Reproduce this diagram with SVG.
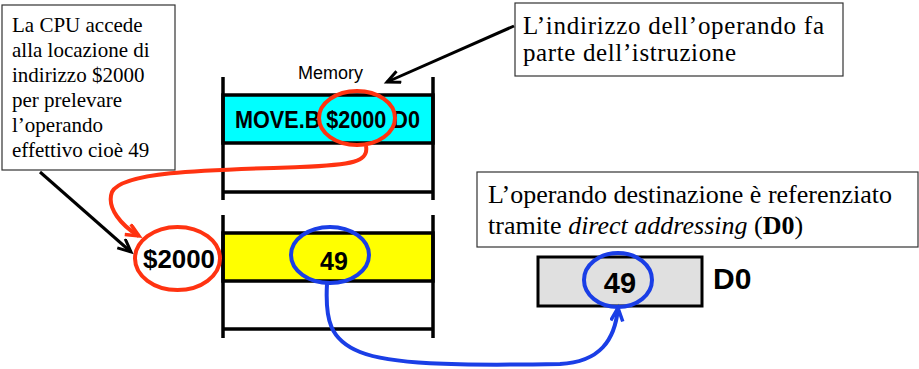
<svg xmlns="http://www.w3.org/2000/svg" width="919" height="369" viewBox="0 0 919 369">
<style>
.box{fill:#fff;stroke:#333;stroke-width:1.2}
.serif{font-family:"Liberation Serif","Times New Roman",serif;fill:#000}
.sans{font-family:"Liberation Sans",Arial,sans-serif;font-weight:bold;fill:#000}
.mem{stroke:#000;stroke-width:3.5;fill:none}
.red{fill:none;stroke:#ff3311;stroke-width:4}
.blue{fill:none;stroke:#1a3ee6;stroke-width:4}
.blk{fill:none;stroke:#000;stroke-width:3}
</style>
<defs>
<marker id="ab" markerUnits="userSpaceOnUse" markerWidth="20" markerHeight="20" refX="14" refY="7" orient="auto"><path d="M1,1 L14,7 L1,13" fill="none" stroke="#000" stroke-width="3"/></marker>
<marker id="ar" markerUnits="userSpaceOnUse" markerWidth="20" markerHeight="20" refX="14" refY="7" orient="auto"><path d="M1,1 L14,7 L1,13" fill="none" stroke="#ff3311" stroke-width="3.5"/></marker>
<marker id="au" markerUnits="userSpaceOnUse" markerWidth="20" markerHeight="20" refX="14" refY="7" orient="auto"><path d="M1,1 L14,7 L1,13" fill="none" stroke="#1a3ee6" stroke-width="3.5"/></marker>
</defs>

<g id="note-cpu">
<rect class="box" x="2" y="5" width="173" height="165"/>
<text class="serif" font-size="21" x="12" y="32">La CPU accede</text>
<text class="serif" font-size="21" x="12" y="57">alla locazione di</text>
<text class="serif" font-size="21" x="12" y="82">indirizzo $2000</text>
<text class="serif" font-size="21" x="12" y="107">per prelevare</text>
<text class="serif" font-size="21" x="12" y="132">l’operando</text>
<text class="serif" font-size="21" x="12" y="157">effettivo cioè 49</text>
</g>

<g id="note-indirizzo">
<rect class="box" x="515" y="3" width="328" height="73"/>
<text class="serif" font-size="25" x="523" y="34" textLength="301" lengthAdjust="spacing">L’indirizzo dell’operando fa</text>
<text class="serif" font-size="25" x="523" y="61" textLength="213" lengthAdjust="spacing">parte dell’istruzione</text>
</g>

<g id="note-dest">
<rect class="box" x="477" y="172" width="441" height="75"/>
<text class="serif" font-size="26" x="488" y="203">L’operando destinazione è referenziato</text>
<text class="serif" font-size="26" x="488" y="234">tramite <tspan font-style="italic">direct addressing</tspan> (<tspan font-weight="bold">D0</tspan>)</text>
</g>

<g id="memory-top">
<text class="sans" font-size="18" x="298" y="79" style="font-weight:normal">Memory</text>
<rect x="223" y="95" width="210" height="48" fill="#00ffff" stroke="#000" stroke-width="3.5"/>
<line class="mem" x1="223" y1="77" x2="223" y2="200"/>
<line class="mem" x1="433" y1="77" x2="433" y2="200"/>
<line class="mem" x1="223" y1="192" x2="433" y2="192"/>
<text class="sans" font-size="23" x="235" y="128" textLength="185" lengthAdjust="spacingAndGlyphs">MOVE.B $2000 D0</text>
</g>

<g id="memory-bottom">
<rect x="223" y="233" width="210" height="48" fill="#ffff00" stroke="#000" stroke-width="3.5"/>
<line class="mem" x1="223" y1="215" x2="223" y2="338"/>
<line class="mem" x1="433" y1="215" x2="433" y2="338"/>
<line class="mem" x1="223" y1="329" x2="433" y2="329"/>
<text class="sans" font-size="25" x="334" y="270" text-anchor="middle">49</text>
</g>

<g id="address">
<text class="sans" font-size="26" x="143" y="268" textLength="72" lengthAdjust="spacingAndGlyphs">$2000</text>
</g>

<g id="register-d0">
<rect x="538" y="257" width="164" height="49" fill="#e0e0e0" stroke="#000" stroke-width="3"/>
<text class="sans" font-size="29" x="620" y="293" text-anchor="middle">49</text>
<text class="sans" font-size="30" x="713" y="289">D0</text>
</g>

<g id="highlights">
<ellipse class="red" cx="357" cy="118" rx="38" ry="27"/>
<ellipse class="red" cx="177.5" cy="258.5" rx="42.5" ry="31.5"/>
<ellipse class="blue" cx="330" cy="255" rx="39" ry="28"/>
<ellipse class="blue" cx="618" cy="280" rx="34" ry="27"/>
</g>

<g id="connectors">
<line class="blk" x1="40" y1="172" x2="131" y2="252" marker-end="url(#ab)"/>
<line class="blk" x1="514" y1="26" x2="387" y2="82" marker-end="url(#ab)"/>
<path class="red" d="M366,146 C369,162 352,165 300,167 C200,170 122,172 112,192 C106,208 122,226 139,236" marker-end="url(#ar)"/>
<path class="blue" d="M327,284 C325,320 330,340 360,352 C390,364 450,366 560,364 C600,362 615,340 618,308" marker-end="url(#au)"/>
</g>
</svg>
